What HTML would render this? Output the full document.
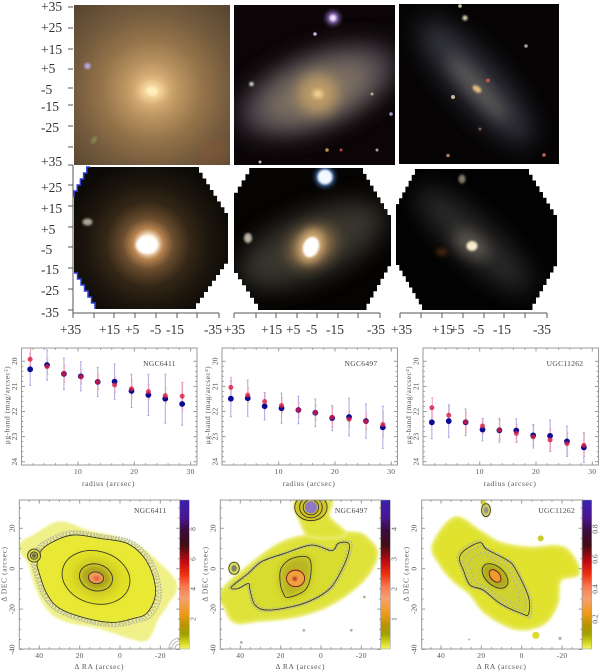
<!DOCTYPE html>
<html lang="en">
<head>
<meta charset="utf-8">
<title>Galaxy panels</title>
<style>
html,body{margin:0;padding:0;background:#fff;width:600px;height:671px;overflow:hidden}
svg{display:block}
text{font-family:"Liberation Serif",serif}
.ax text{font-size:13.5px;fill:#333}
.ax line{stroke:#555;stroke-width:1}
</style>
</head>
<body>
<svg id="fig" xmlns="http://www.w3.org/2000/svg" width="600" height="671" viewBox="0 0 600 671">
<defs>
<filter id="b1" x="-30%" y="-30%" width="160%" height="160%"><feGaussianBlur stdDeviation="1"/></filter>
<filter id="b2" x="-30%" y="-30%" width="160%" height="160%"><feGaussianBlur stdDeviation="2"/></filter>
<filter id="b4" x="-40%" y="-40%" width="180%" height="180%"><feGaussianBlur stdDeviation="4"/></filter>
<filter id="b7" x="-50%" y="-50%" width="200%" height="200%"><feGaussianBlur stdDeviation="7"/></filter>
<filter id="b12" x="-60%" y="-60%" width="220%" height="220%"><feGaussianBlur stdDeviation="12"/></filter>
<radialGradient id="g1" gradientUnits="userSpaceOnUse" cx="152" cy="90" r="115">
<stop offset="0" stop-color="#f8dfa8"/><stop offset=".1" stop-color="#dcb278"/><stop offset=".25" stop-color="#b8925f"/><stop offset=".45" stop-color="#937249"/><stop offset=".7" stop-color="#71593c"/><stop offset="1" stop-color="#55442f"/>
</radialGradient>
<radialGradient id="h1" gradientUnits="userSpaceOnUse" cx="148" cy="244" r="85">
<stop offset="0" stop-color="#fff"/><stop offset=".1" stop-color="#fff0d8"/><stop offset=".18" stop-color="#b88450"/><stop offset=".3" stop-color="#6a4d2e"/><stop offset=".5" stop-color="#332616"/><stop offset=".75" stop-color="#1a140c"/><stop offset="1" stop-color="#0c0a06"/>
</radialGradient>
<linearGradient id="cb" x1="0" y1="0" x2="0" y2="1">
<stop offset="0" stop-color="#3a20b0"/><stop offset=".12" stop-color="#4a1690"/><stop offset=".2" stop-color="#3a0c40"/><stop offset=".3" stop-color="#400c14"/><stop offset=".42" stop-color="#c80c10"/><stop offset=".5" stop-color="#f03010"/><stop offset=".58" stop-color="#f87850"/><stop offset=".66" stop-color="#f4a070"/><stop offset=".76" stop-color="#f09a18"/><stop offset=".84" stop-color="#b89400"/><stop offset=".9" stop-color="#a0a000"/><stop offset=".96" stop-color="#d8d820"/><stop offset="1" stop-color="#f4f470"/>
</linearGradient>
<clipPath id="c-top1"><rect x="74" y="5" width="156" height="160"/></clipPath>
<clipPath id="c-top2"><rect x="234" y="5" width="161" height="160"/></clipPath>
<clipPath id="c-top3"><rect x="399" y="4" width="160" height="160"/></clipPath>
<clipPath id="c-hex1"><polygon id="p-hex1" points=""/></clipPath>
<clipPath id="c-hex2"><polygon id="p-hex2" points=""/></clipPath>
<clipPath id="c-hex3"><polygon id="p-hex3" points=""/></clipPath>
</defs>

<g clip-path="url(#c-top1)">
<rect x="74" y="5" width="156" height="160" fill="url(#g1)"/>
<ellipse cx="152" cy="91" rx="13" ry="9" fill="#f4d69c" filter="url(#b4)"/>
<ellipse cx="152" cy="91" rx="6" ry="4.500" fill="#ffeebc" filter="url(#b1)" transform="rotate(15 152 91)"/>
<circle cx="87.500" cy="66" r="3" fill="#c0a8f0" filter="url(#b1)"/>
<ellipse cx="94" cy="140" rx="2" ry="4" fill="#8a8a50" filter="url(#b1)" transform="rotate(30 94 140)"/>
<rect x="200" y="140" width="30" height="25" fill="#8a5838" opacity=".4" filter="url(#b4)"/>
</g>
<g clip-path="url(#c-top2)">
<rect x="234" y="5" width="161" height="160" fill="#0b0507"/>
<ellipse cx="318" cy="90" rx="84" ry="36" fill="#5c5660" opacity=".8" filter="url(#b12)" transform="rotate(-22 318 90)"/>
<ellipse cx="318" cy="92" rx="58" ry="26" fill="#8a7a68" opacity=".8" filter="url(#b12)" transform="rotate(-22 318 92)"/>
<ellipse cx="318" cy="94" rx="20" ry="20" fill="#c4a068" opacity=".9" filter="url(#b7)"/>
<ellipse cx="318" cy="94" rx="5" ry="4" fill="#f4d498" filter="url(#b2)"/>
<circle cx="333" cy="18" r="7" fill="#7a5ca8" filter="url(#b2)"/>
<circle cx="333" cy="18" r="3.500" fill="#f0e0ff" filter="url(#b1)"/>
<circle cx="315" cy="34" r="1.800" fill="#c0b0f0"/>
<circle cx="251.500" cy="84" r="2" fill="#f0f0f0" filter="url(#b1)"/>
<circle cx="372" cy="94" r="1.500" fill="#b8a890"/>
<circle cx="391" cy="114" r="1.800" fill="#a098d8"/>
<circle cx="327" cy="150" r="1.800" fill="#c09048"/>
<circle cx="341" cy="150" r="1.500" fill="#b04840"/>
<circle cx="377" cy="150" r="1.500" fill="#a8a098"/>
<circle cx="260" cy="162" r="1.500" fill="#c0c0c0"/>
</g>
<g clip-path="url(#c-top3)">
<rect x="399" y="4" width="160" height="160" fill="#060405"/>
<ellipse cx="476" cy="82" rx="80" ry="23" fill="#484b58" opacity=".7" filter="url(#b12)" transform="rotate(48 476 82)"/>
<ellipse cx="477" cy="88" rx="42" ry="9" fill="#6c6860" opacity=".7" filter="url(#b7)" transform="rotate(48 477 88)"/>
<ellipse cx="477" cy="89" rx="5" ry="3" fill="#e0bc80" filter="url(#b1)" transform="rotate(35 477 89)"/>
<circle cx="460" cy="6" r="1.800" fill="#c8c0a0"/>
<circle cx="465" cy="18" r="2.500" fill="#e0dcb8" filter="url(#b1)"/>
<circle cx="526" cy="46" r="1.800" fill="#a0a090"/>
<circle cx="453" cy="97" r="2" fill="#c8b898"/>
<circle cx="488" cy="80.500" r="2" fill="#c05048"/>
<circle cx="480" cy="129" r="1.500" fill="#806050"/>
<circle cx="448" cy="155.500" r="1.800" fill="#a87860"/>
<circle cx="544" cy="155" r="1.800" fill="#b86848"/>
</g>

<g clip-path="url(#c-hex1)">
<rect x="70" y="165" width="165" height="150" fill="url(#h1)"/>
<ellipse cx="147" cy="245" rx="11" ry="8.500" fill="#fff" filter="url(#b1)"/>
<ellipse cx="87.500" cy="222" rx="5" ry="3.500" fill="#a8a494" filter="url(#b1)"/>
</g>
<polyline id="blue-edge-a" fill="none" stroke="#3040d8" stroke-width="1.500" points=""/>
<polyline id="blue-edge-b" fill="none" stroke="#3040d8" stroke-width="1.500" points=""/>
<g clip-path="url(#c-hex2)">
<rect x="230" y="165" width="165" height="150" fill="#050403"/>
<ellipse cx="312" cy="245" rx="78" ry="32" fill="#4c463e" opacity=".75" filter="url(#b12)" transform="rotate(-24 312 245)"/>
<ellipse cx="312" cy="246" rx="26" ry="20" fill="#94774e" opacity=".8" filter="url(#b7)" transform="rotate(-30 312 246)"/>
<ellipse cx="311" cy="246" rx="13" ry="17" fill="#d0a870" filter="url(#b4)" transform="rotate(20 311 246)"/>
<ellipse cx="311" cy="247" rx="8" ry="10.500" fill="#fff" filter="url(#b1)" transform="rotate(20 311 247)"/>
<circle cx="325" cy="177" r="10" fill="#3860a0" filter="url(#b2)"/>
<circle cx="325" cy="177" r="7.500" fill="#f4f8ff" filter="url(#b1)"/>
<ellipse cx="248" cy="238" rx="4" ry="5" fill="#b8b0a0" filter="url(#b1)"/>
</g>
<g clip-path="url(#c-hex3)">
<rect x="392" y="165" width="170" height="150" fill="#040303"/>
<ellipse cx="474" cy="240" rx="74" ry="20" fill="#3e3c3e" opacity=".7" filter="url(#b12)" transform="rotate(42 474 240)"/>
<ellipse cx="471" cy="245" rx="20" ry="11" fill="#6c645a" opacity=".8" filter="url(#b7)" transform="rotate(35 471 245)"/>
<ellipse cx="472" cy="246" rx="5.500" ry="5" fill="#f8eccc" filter="url(#b1)"/>
<ellipse cx="442" cy="252" rx="6" ry="4" fill="#3c2410" filter="url(#b2)"/>
<ellipse cx="462" cy="179" rx="3.500" ry="4.500" fill="#807868" filter="url(#b1)"/>
</g>

<g class="ax">
<g>
<line x1="68" y1="7" x2="73" y2="7"/><line x1="68" y1="28" x2="73" y2="28"/><line x1="68" y1="49" x2="73" y2="49"/><line x1="68" y1="69" x2="73" y2="69"/><line x1="68" y1="88" x2="73" y2="88"/><line x1="68" y1="105" x2="73" y2="105"/><line x1="68" y1="126" x2="73" y2="126"/><line x1="68" y1="147" x2="73" y2="147"/><line x1="68" y1="165" x2="73" y2="165"/>
<text x="41" y="11">+35</text>
<text x="41" y="32">+25</text>
<text x="41" y="54">+15</text>
<text x="41" y="73">+5</text>
<text x="41" y="94">-5</text>
<text x="41" y="111">-15</text>
<text x="41" y="132">-25</text>
<text x="41" y="166">+35</text>
</g>
<g>
<line x1="73" y1="165" x2="73" y2="313"/>
<line x1="68" y1="185" x2="73" y2="185"/><line x1="68" y1="206" x2="73" y2="206"/><line x1="68" y1="227" x2="73" y2="227"/><line x1="68" y1="247" x2="73" y2="247"/><line x1="68" y1="268" x2="73" y2="268"/><line x1="68" y1="289" x2="73" y2="289"/><line x1="68" y1="310" x2="73" y2="310"/>
<text x="41" y="192">+25</text>
<text x="41" y="213">+15</text>
<text x="41" y="234">+5</text>
<text x="41" y="254">-5</text>
<text x="41" y="274">-15</text>
<text x="41" y="295">-25</text>
<text x="41" y="317">-35</text>
</g>
<g>
<line x1="73" y1="313" x2="219" y2="313"/>
<line x1="73" y1="313" x2="73" y2="318"/><line x1="94" y1="313" x2="94" y2="318"/><line x1="114" y1="313" x2="114" y2="318"/><line x1="135" y1="313" x2="135" y2="318"/><line x1="156" y1="313" x2="156" y2="318"/><line x1="177" y1="313" x2="177" y2="318"/><line x1="197" y1="313" x2="197" y2="318"/><line x1="219" y1="313" x2="219" y2="318"/>
<text x="60" y="334">+35</text>
<text x="99" y="334">+15</text>
<text x="125" y="334">+5</text>
<text x="150" y="334">-5</text>
<text x="166" y="334">-15</text>
<text x="204" y="334">-35</text>
</g>
<g>
<line x1="234" y1="313" x2="380" y2="313"/>
<line x1="234" y1="313" x2="234" y2="318"/><line x1="256" y1="313" x2="256" y2="318"/><line x1="276" y1="313" x2="276" y2="318"/><line x1="297" y1="313" x2="297" y2="318"/><line x1="317" y1="313" x2="317" y2="318"/><line x1="338" y1="313" x2="338" y2="318"/><line x1="358" y1="313" x2="358" y2="318"/><line x1="380" y1="313" x2="380" y2="318"/>
<text x="224" y="334">+35</text>
<text x="261" y="334">+15</text>
<text x="286" y="334">+5</text>
<text x="306" y="334">-5</text>
<text x="326" y="334">-15</text>
<text x="367" y="334">-35</text>
</g>
<g>
<line x1="400" y1="313" x2="547" y2="313"/>
<line x1="400" y1="313" x2="400" y2="318"/><line x1="421" y1="313" x2="421" y2="318"/><line x1="442" y1="313" x2="442" y2="318"/><line x1="463" y1="313" x2="463" y2="318"/><line x1="484" y1="313" x2="484" y2="318"/><line x1="504" y1="313" x2="504" y2="318"/><line x1="525" y1="313" x2="525" y2="318"/><line x1="547" y1="313" x2="547" y2="318"/>
<text x="391" y="334">+35</text>
<text x="432" y="334">+15</text>
<text x="450" y="334">+5</text>
<text x="473" y="334">-5</text>
<text x="493" y="334">-15</text>
<text x="533" y="334">-35</text>
</g>
</g>
<g id="charts"></g>
</svg>

<script>
// ---------- profile data ----------
const radii = [1.5,4.5,7.5,10.5,13.5,16.5,19.5,22.5,25.5,28.5];
const xTickValues = [10,20,30];
const yTickValues = [20,21,22,23,24];

const ngc6411Blue = [20.32,20.15,20.50,20.60,20.82,20.81,21.18,21.34,21.49,21.70];
const ngc6411BlueErr = [0.64,0.60,0.63,0.58,0.58,0.70,0.66,0.82,0.98,0.85];
const ngc6411Red = [19.92,20.21,20.49,20.62,20.82,20.94,21.10,21.21,21.37,21.39];
const ngc6411RedErr = [0.40,0.30,0.35,0.28,0.30,0.30,0.35,0.30,0.30,0.55];

const ngc6497Blue = [21.49,21.47,21.79,21.87,21.94,22.05,22.26,22.22,22.38,22.63];
const ngc6497BlueErr = [0.72,0.72,0.55,0.60,0.55,0.55,0.50,0.75,0.68,0.84];
const ngc6497Red = [21.04,21.35,21.60,21.76,21.94,22.05,22.23,22.31,22.40,22.52];
const ngc6497RedErr = [0.40,0.30,0.30,0.30,0.30,0.30,0.40,0.32,0.30,0.50];

const ugc11262Blue = [22.43,22.38,22.43,22.72,22.75,22.76,22.95,22.97,23.19,23.43];
const ugc11262BlueErr = [0.65,0.65,0.53,0.45,0.48,0.47,0.43,0.63,0.60,0.60];
const ugc11262Red = [21.85,22.15,22.43,22.58,22.74,22.87,23.01,23.13,23.28,23.35];
const ugc11262RedErr = [0.40,0.35,0.40,0.30,0.40,0.35,0.45,0.45,0.45,0.45];

// ---------- map data, in arcsec offsets (RA, DEC) ----------
const raTicks = [40,20,0,-20];
const decTicks = [20,0,-20,-40];

const ngc6411Halo = [[49.6,10.9],[41.3,16.7],[29.8,22.5],[16.5,18.3],[5,15.9],[-6.6,11.7],[-14.9,6],[-27.3,-7.3],[-23.1,-17.2],[-18.2,-24.6],[-13.2,-34.5],[-5,-33.7],[9.9,-28.8],[26.4,-25.5],[34.7,-20.5],[41.3,-8.9],[44.6,2.6]];
const ngc6411Outer = [[38.8,9.3],[33,13.4],[23.1,16.7],[9.9,15],[-3.3,12.6],[-11.6,6],[-16.5,-4],[-17.4,-13.9],[-13.2,-22.1],[-6.6,-24.6],[3.3,-26.6],[16.5,-24.6],[29.8,-19.7],[36.4,-12.2],[40.5,-0.7],[41,3]];
const ngc6411Ellipses = [[11.9,-4.3,17,13,15],[11.9,-4.3,8.3,6.6,15],[11.9,-4.5,3.8,2.9,10]];
const ngc6411Knots = [[42.6,6.5,3.2,3.2],[42.6,6.5,1.8,1.8]];

const ngc6497Halo = [[50.1,-12.2],[36,1],[19.5,12.6],[3,16.7],[-16.9,17.5],[-23.5,14.2],[-27.6,7.6],[-23.5,-2.3],[-15.2,-10.6],[-2,-18.8],[14.5,-23.8],[31.1,-25.5],[42.6,-26.3],[47.6,-18.8]];
const ngc6497Upper = [[12.1,34],[-4.5,34],[-3.6,25.8],[-11.9,16.7],[4.6,15.9],[9.6,22.5]];
const ngc6497Outer = [[43.5,-8.1],[36,-2.3],[29.4,3.5],[17.9,7.6],[4.6,11.7],[-5.3,8.9],[-8.6,12.6],[-13.6,12.6],[-13.6,7.6],[-10.2,-0.7],[-5.3,-8.9],[1.3,-13.9],[11.2,-18],[26.1,-20.5],[32.7,-18],[35.2,-10.6],[36,-7.3],[41,-9.8],[44.3,-9.8]];
const ngc6497Inner = [[19.8,0.2],[14.5,5.1],[6.3,5.5],[5,-2.3],[7.9,-10.6],[16.2,-14.2],[18.7,-12.2],[20.3,-6.4]];
const ngc6497Ellipses = [[12.6,-4.8,4.5,4.1,0]];
const ngc6497Knots = [[5,30.4,8,6.6],[5,30.4,5.6,5.2],[5,30.4,3.8,3.8],[43.1,0.2,2.6,3]];
const ngc6497Dots = [[-21.5,-14],[39.5,-36.5],[8.5,-30.5],[-15,-30.5]];

const ugc11262Halo = [[43.8,11.7],[33.1,25],[20.7,18.3],[10.7,12.6],[-4.1,10.1],[-17.4,10.9],[-24,7.6],[-28.1,-2.3],[-19,-5.6],[-17.4,-17.2],[-10.7,-27.1],[2.5,-29.6],[17.4,-22.1],[25.6,-12.2],[33.9,-5.6],[40.5,2.6]];
const ugc11262Outer = [[30.9,5.1],[28.1,9.3],[20.7,12.9],[17.4,9.6],[7.4,4.3],[3.3,0.2],[-3.3,-13.9],[-3.3,-22.5],[0,-22.2],[10.7,-17.2],[19,-10.6],[25.6,-8.1],[28.9,-0.7]];
const ugc11262Ellipses = [[13.2,-3.6,7.5,4.6,42],[13.2,-3.6,3.6,2.3,50]];
const ugc11262Knots = [[17.7,29,2.2,3.2]];

const cbLabels6411 = ['8','6','4','2'];
const cbLabels6497 = ['4','3','2','1'];
const cbLabels11262 = ['0.8','0.6','0.4','0.2'];

const NS = 'http://www.w3.org/2000/svg';
const root = document.getElementById('charts');
function el(tag, attrs, parent){
  const e = document.createElementNS(NS, tag);
  for (const k in attrs) e.setAttribute(k, attrs[k]);
  (parent || root).appendChild(e);
  return e;
}
function stepEdge(a, b, step){
  const out = [];
  const dx = b[0] - a[0], dy = b[1] - a[1];
  if (dx !== 0 && dy !== 0){
    const n = Math.max(1, Math.round(Math.abs(dy) / step));
    for (let j = 0; j < n; j++){
      const y1 = a[1] + dy * (j + 1) / n;
      out.push([a[0] + dx * j / n, y1], [a[0] + dx * (j + 1) / n, y1]);
    }
  }
  return out;
}
function stair(pts, step){
  const out = [];
  for (let i = 0; i < pts.length; i++){
    out.push(pts[i]);
    stepEdge(pts[i], pts[(i + 1) % pts.length], step).forEach(q => out.push(q));
  }
  return out;
}
function ptStr(p){ return p.map(q => q[0].toFixed(1) + ',' + q[1].toFixed(1)).join(' '); }

const hex1 = [[90,167],[199,167],[228,213],[228,258],[192,309],[95,309],[74,273],[74,197]];
const hex2 = [[253,168],[363,168],[391,215],[391,260],[363,310],[258,310],[234,273],[234,199]];
const hex3 = [[418,169],[529,169],[557,215],[557,260],[529,310],[422,310],[396,265],[396,210]];
document.getElementById('p-hex1').setAttribute('points', ptStr(stair(hex1, 6)));
document.getElementById('p-hex2').setAttribute('points', ptStr(stair(hex2, 6)));
document.getElementById('p-hex3').setAttribute('points', ptStr(stair(hex3, 6)));
document.getElementById('blue-edge-a').setAttribute('points', ptStr([[74,197]].concat(stepEdge([74,197],[90,167],6))));
document.getElementById('blue-edge-b').setAttribute('points', ptStr([[95,309]].concat(stepEdge([95,309],[74,273],6))));

// ---------- profile panels ----------
function drawProfile(p){
  const g = el('g', {});
  
  
  const xAt = v => p.x0 + v * 5.63;
  const yAt = v => 361.3 + (v - 20) * 25.1;
  const frame = el('rect', {x:p.left, y:348, width:175.5, height:117, fill:'none', stroke:'#999', 'stroke-width':1}, g);
  
  
  for (let v = 2; v <= 30; v += 2){
    const len = v % 10 === 0 ? 3.5 : 1.8;
    el('line', {x1:xAt(v), x2:xAt(v), y1:465, y2:465 - len, stroke:'#999'}, g);
    el('line', {x1:xAt(v), x2:xAt(v), y1:348, y2:348 + len, stroke:'#999'}, g);
  }
  for (let v = 20; v <= 24.01; v += 0.2){
    const major = Math.abs(v - Math.round(v)) < 0.01;
    const len = major ? 3.5 : 1.8;
    el('line', {x1:p.left, x2:p.left + len, y1:yAt(v), y2:yAt(v), stroke:'#999'}, g);
    el('line', {x1:p.left + 175.5, x2:p.left + 175.5 - len, y1:yAt(v), y2:yAt(v), stroke:'#999'}, g);
  }
  xTickValues.forEach(v => {
    const t = el('text', {x:xAt(v), y:474, 'text-anchor':'middle', 'font-size':7.5, fill:'#555', 'letter-spacing':'.3'}, g);
    
    
    t.textContent = v;
  });
  yTickValues.forEach(v => {
    const lx = p.left - 4.5;
    const t = el('text', {x:lx, y:yAt(v), 'text-anchor':'middle', 'font-size':7.5, fill:'#555', transform:'rotate(-90 ' + lx + ' ' + yAt(v) + ')'}, g);
    
    
    t.textContent = v;
  });
  const xt = el('text', {x:p.left + 87, y:486, 'text-anchor':'middle', 'font-size':7.5, fill:'#555', 'letter-spacing':'.6'}, g);
  
  
  xt.textContent = 'radius (arcsec)';
  const ytx = p.left - 12, yty = 405;
  const yt = el('text', {x:ytx, y:yty, 'text-anchor':'middle', 'font-size':7.5, fill:'#555', 'letter-spacing':'.5', transform:'rotate(-90 ' + ytx + ' ' + yty + ')'}, g);
  
  
  yt.textContent = 'μg-band (mag/arcsec²)';
  const nm = el('text', {x:p.left + p.labelDx, y:366, 'text-anchor':'middle', 'font-size':7.5, fill:'#444', 'letter-spacing':'.3'}, g);
  
  
  nm.textContent = p.label;
  const seriesErr = (vals, errs, col, nameStr) => {
    radii.forEach((r, i) => {
      const x = xAt(r) + (nameStr === 'red' ? 0.4 : 0);
      const bar = el('path', {d:'M' + (x - 1) + ' ' + yAt(vals[i] - errs[i]) + 'h2M' + x + ' ' + Math.max(348, yAt(vals[i] - errs[i])) + 'V' + yAt(vals[i] + errs[i]) + 'M' + (x - 1) + ' ' + yAt(vals[i] + errs[i]) + 'h2', stroke:col, 'stroke-width':1, fill:'none'}, g);
      
      
    });
  };
  seriesErr(p.blue, p.blueErr, '#a8a8e4', 'blue');
  seriesErr(p.red, p.redErr, '#eaa4bc', 'red');
  radii.forEach((r, i) => {
    const c = el('circle', {cx:xAt(r), cy:yAt(p.blue[i]), r:2.9, fill:'#0a0a94'}, g);
    
    
  });
  radii.forEach((r, i) => {
    const c = el('circle', {cx:xAt(r), cy:yAt(p.red[i]), r:2.5, fill:'#d81c40', opacity:0.8}, g);
    
    
  });
}
drawProfile({key:'ngc6411', label:'NGC6411', left:21.5, x0:21.7, labelDx:138, blue:ngc6411Blue, blueErr:ngc6411BlueErr, red:ngc6411Red, redErr:ngc6411RedErr});
drawProfile({key:'ngc6497', label:'NGC6497', left:222, x0:222.4, labelDx:139, blue:ngc6497Blue, blueErr:ngc6497BlueErr, red:ngc6497Red, redErr:ngc6497RedErr});
drawProfile({key:'ugc11262', label:'UGC11262', left:423, x0:423.4, labelDx:142, blue:ugc11262Blue, blueErr:ugc11262BlueErr, red:ugc11262Red, redErr:ugc11262RedErr});

// ---------- contour maps ----------
function smooth(pts){
  let d = '';
  const n = pts.length;
  for (let i = 0; i < n; i++){
    const p0 = pts[(i - 1 + n) % n], p1 = pts[i], p2 = pts[(i + 1) % n], p3 = pts[(i + 2) % n];
    if (i === 0) d += 'M' + p1[0].toFixed(1) + ' ' + p1[1].toFixed(1);
    d += 'C' + (p1[0] + (p2[0] - p0[0]) / 6).toFixed(1) + ' ' + (p1[1] + (p2[1] - p0[1]) / 6).toFixed(1) + ' ' +
         (p2[0] - (p3[0] - p1[0]) / 6).toFixed(1) + ' ' + (p2[1] - (p3[1] - p1[1]) / 6).toFixed(1) + ' ' +
         p2[0].toFixed(1) + ' ' + p2[1].toFixed(1);
  }
  return d + 'Z';
}
function scaleAbout(pts, f){
  const cx = pts.reduce((a, q) => a + q[0], 0) / pts.length;
  const cy = pts.reduce((a, q) => a + q[1], 0) / pts.length;
  return pts.map(q => [cx + (q[0] - cx) * f, cy + (q[1] - cy) * f]);
}
function drawMap(m){
  const g = el('g', {});
  
  
  const X = ra => m.xZero - 2.017 * ra;
  const Y = dec => 568.7 - 2.02 * dec;
  const P = arr => arr.map(q => [X(q[0]), Y(q[1])]);
  const clipId = 'clip-' + m.key;
  const cp = el('clipPath', {id:clipId}, g);
  el('rect', {x:m.left, y:500, width:160.5, height:149}, cp);
  const inner = el('g', {'clip-path':'url(#' + clipId + ')'}, g);
  
  
  m.halos.forEach(h => {
    el('path', {d:smooth(P(h)), fill:'#f0f08c', stroke:'#f0f08c', 'stroke-width':3, filter:'url(#b1)'}, inner);
    el('path', {d:smooth(P(h)), fill:m.haloFill, filter:'url(#b2)'}, inner);
  });
  (m.shades || []).forEach(s => {
    if (s.pts) el('path', {d:smooth(P(s.pts)), fill:s.fill, filter:'url(#' + s.blur + ')'}, inner);
    else {
      const [ra, dec, a, b, rot] = s.ell;
      el('ellipse', {cx:X(ra), cy:Y(dec), rx:a * 2.02, ry:b * 2.02, fill:s.fill, filter:'url(#' + s.blur + ')', transform:'rotate(' + rot + ' ' + X(ra) + ' ' + Y(dec) + ')'}, inner);
    }
  });
  m.speckled.forEach(s => {
    const base = P(s);
    m.speckleRings.forEach((f, i) => {
      const dot = el('path', {d:smooth(scaleAbout(base, f)), fill:'none', stroke:'#b2b2a2', 'stroke-width':1.9, 'stroke-linecap':'round', 'stroke-dasharray':'0 ' + (2.8 + i % 3 * 0.7), opacity:.9}, inner);
      
      
    });
  });
  m.contours.forEach(c => {
    const e = el('path', {d:smooth(P(c)), fill:'none', stroke:'#3a3a2a', 'stroke-width':.9}, inner);
    
    
  });
  m.ellipses.forEach((c, i) => {
    const e = el('ellipse', {cx:X(c[0]), cy:Y(c[1]), rx:c[2] * 2.02, ry:c[3] * 2.02, fill:'none', stroke:i === m.ellipses.length - 1 && m.key !== 'ngc6411' ? '#701818' : '#3a3a2a', 'stroke-width':.9, transform:'rotate(' + c[4] + ' ' + X(c[0]) + ' ' + Y(c[1]) + ')'}, inner);
    
    
  });
  (m.knotFill || []).forEach(k => {
    el('ellipse', {cx:X(k[0]), cy:Y(k[1]), rx:k[2] * 2.02, ry:k[3] * 2.02, fill:k[4], filter:'url(#b1)'}, inner);
  });
  m.knots.forEach(k => {
    el('ellipse', {cx:X(k[0]), cy:Y(k[1]), rx:k[2] * 2.02, ry:k[3] * 2.02, fill:'none', stroke:'#3a3a2a', 'stroke-width':.9}, inner);
  });
  (m.knotCore || []).forEach(k => {
    el('ellipse', {cx:X(k[0]), cy:Y(k[1]), rx:k[2] * 2.02, ry:k[3] * 2.02, fill:k[4]}, inner);
  });
  (m.dots || []).forEach(d => {
    el('circle', {cx:X(d[0]), cy:Y(d[1]), r:(d[2] || 0.7) * 2.02, fill:d[3] || '#b4b4a0'}, inner);
  });
  if (m.corner){
    [5,8,11].forEach(r => el('circle', {cx:m.left + 160.5, cy:649, r:r, fill:'none', stroke:'#a8a8a8', 'stroke-width':.8}, inner));
  }
  const frame = el('rect', {x:m.left, y:500, width:160.5, height:149, fill:'none', stroke:'#999'}, g);
  
  
  for (let v = -40; v <= 60; v += 5){
    const x = X(v);
    if (x >= m.left && x <= m.left + 160.5){
      const len = v % 20 === 0 ? 3.5 : 1.8;
      el('line', {x1:x, x2:x, y1:649, y2:649 - len, stroke:'#999'}, g);
      el('line', {x1:x, x2:x, y1:500, y2:500 + len, stroke:'#999'}, g);
    }
  }
  for (let v = -40; v <= 30; v += 5){
    const len = v % 20 === 0 ? 3.5 : 1.8;
    el('line', {x1:m.left, x2:m.left + len, y1:Y(v), y2:Y(v), stroke:'#999'}, g);
    el('line', {x1:m.left + 160.5, x2:m.left + 160.5 - len, y1:Y(v), y2:Y(v), stroke:'#999'}, g);
  }
  raTicks.forEach(v => {
    const t = el('text', {x:X(v), y:658, 'text-anchor':'middle', 'font-size':7.5, fill:'#555', 'letter-spacing':'.3'}, g);
    
    
    t.textContent = v;
  });
  decTicks.forEach(v => {
    const lx = m.left - 5;
    const t = el('text', {x:lx, y:Y(v), 'text-anchor':'middle', 'font-size':7.5, fill:'#555', transform:'rotate(-90 ' + lx + ' ' + Y(v) + ')'}, g);
    
    
    t.textContent = v;
  });
  const xt = el('text', {x:m.left + 80, y:669, 'text-anchor':'middle', 'font-size':7.5, fill:'#555', 'letter-spacing':'.6'}, g);
  
  
  xt.textContent = 'Δ RA (arcsec)';
  const ytx = m.left - 13, yty = 574;
  const yt = el('text', {x:ytx, y:yty, 'text-anchor':'middle', 'font-size':7.5, fill:'#555', 'letter-spacing':'.6', transform:'rotate(-90 ' + ytx + ' ' + yty + ')'}, g);
  
  
  yt.textContent = 'Δ DEC (arcsec)';
  const nm = el('text', {x:m.left + m.labelDx, y:513, 'text-anchor':'middle', 'font-size':7.5, fill:'#444', 'letter-spacing':'.3'}, g);
  
  
  nm.textContent = m.label;
  const bar = el('rect', {x:m.left + 160.5, y:500, width:9.5, height:149, fill:'url(#cb)', stroke:'#999', 'stroke-width':.5}, g);
  
  
  const cbX = m.left + 176;
  m.cb.forEach((s, i) => {
    const cy = 529 + i * 30;
    const t = el('text', {x:cbX, y:cy, 'text-anchor':'middle', 'font-size':7.5, fill:'#555', transform:'rotate(-90 ' + cbX + ' ' + cy + ')'}, g);
    
    
    t.textContent = s;
  });
}
drawMap({
  key:'ngc6411', label:'NGC6411', left:19.3, xZero:120, labelDx:131, haloFill:'#f0f088', cb:cbLabels6411, corner:true,
  halos:[ngc6411Halo],
  shades:[
    {pts:ngc6411Outer, fill:'#e8e834', blur:'b1'},
    {ell:ngc6411Ellipses[0], fill:'#e0e028', blur:'b2'},
    {ell:[11.9,-4.3,11,9,15], fill:'#cec820', blur:'b4'},
    {ell:[11.9,-4.3,7,5.5,15], fill:'#aca41a', blur:'b2'},
    {ell:[11.9,-4.5,3.8,2.9,10], fill:'#f09a58', blur:'b1'},
    {ell:[11.5,-4.8,1.6,1.2,0], fill:'#e86040', blur:'b1'}
  ],
  speckled:[ngc6411Outer],
  speckleRings:[1.09,1.05,1.02],
  contours:[ngc6411Outer],
  ellipses:ngc6411Ellipses,
  knots:ngc6411Knots,
  knotFill:[[42.6,6.5,3.2,3.2,'#d8d840']],
  knotCore:[[42.6,6.5,1.2,1.2,'#707050']]
});
drawMap({
  key:'ngc6497', label:'NGC6497', left:220.3, xZero:321, labelDx:131, haloFill:'#dfe238', cb:cbLabels6497,
  halos:[ngc6497Halo, ngc6497Upper],
  shades:[
    {pts:ngc6497Outer, fill:'#d8dc2e', blur:'b2'},
    {pts:ngc6497Inner, fill:'#b8b424', blur:'b4'},
    {ell:[12.6,-4.8,4.6,4.2,0], fill:'#f0a040', blur:'b1'},
    {ell:[13,-5,1,1,0], fill:'#b02020', blur:'b1'}
  ],
  speckled:[ngc6497Outer],
  speckleRings:[1.04,.96],
  contours:[ngc6497Outer, ngc6497Inner],
  ellipses:ngc6497Ellipses,
  knots:ngc6497Knots,
  knotFill:[[5,30.4,8,6.6,'#d0c428'],[43.1,0.2,2.6,3,'#d8d840']],
  knotCore:[[5,30.4,3,3,'#9078c8'],[43.1,0.2,1.3,1.6,'#808070']],
  dots:ngc6497Dots
});
drawMap({
  key:'ugc11262', label:'UGC11262', left:421.7, xZero:521.7, labelDx:135, haloFill:'#e0e22e', cb:cbLabels11262,
  halos:[ugc11262Halo],
  shades:[
    {pts:ugc11262Outer, fill:'#d0d230', blur:'b2'},
    {ell:[13.2,-3.6,7.5,4.6,42], fill:'#aca81a', blur:'b2'},
    {ell:[13.2,-3.6,3.6,2.3,50], fill:'#f09a30', blur:'b1'}
  ],
  speckled:[ugc11262Outer],
  speckleRings:[1.06,.9,.72],
  contours:[ugc11262Outer],
  ellipses:ugc11262Ellipses,
  knots:ugc11262Knots,
  knotFill:[[17.7,29,2.2,3.2,'#c8c850'],[19,33,1.2,2,'#d0c820']],
  knotCore:[[17.7,29,1.1,1.6,'#989880']],
  dots:[[-7,-33,1.8,'#dcdc30'],[-9.4,15,1.5,'#c8cc30'],[-19,-34.5,.8],[26,-35,.5]]
});
</script>
</body>
</html>
